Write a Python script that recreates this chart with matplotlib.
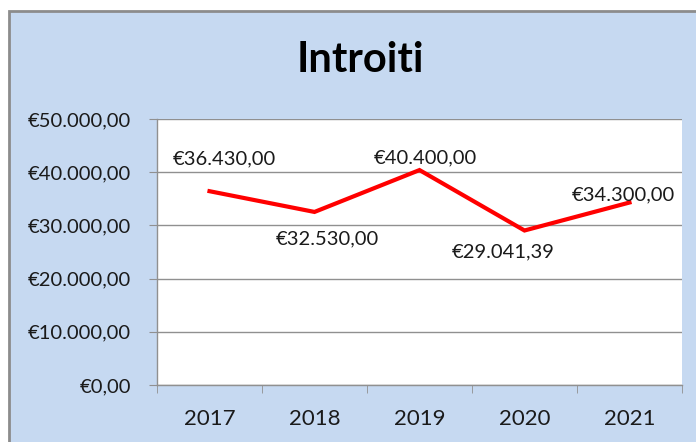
import matplotlib.pyplot as plt
import matplotlib.ticker as ticker
from matplotlib.patches import Rectangle

anni = ['2017', '2018', '2019', '2020', '2021']
introiti = [36430.00, 32530.00, 40400.00, 29041.39, 34300.00]

def euro(v, pos=None):
    s = f'{v:,.2f}'.replace(',', 'X').replace('.', ',').replace('X', '.')
    return '€' + s

plt.rcParams['font.family'] = ['Lato', 'DejaVu Sans']

fig = plt.figure(figsize=(6.96, 4.42), dpi=100)
fig.patch.set_facecolor('white')

# sfondo azzurro con bordo grigio
bg = Rectangle((9 / 696, -0.01), 1.0, 1 - 11 / 442 + 0.01, transform=fig.transFigure,
               facecolor='#c6d9f1', edgecolor='#8c8c8c', linewidth=2, zorder=-5)
fig.patches.append(bg)

ax = fig.add_axes([157 / 696, 57 / 442, 525 / 696, 266 / 442])
ax.set_facecolor('white')

x = list(range(len(anni)))
ax.plot(x, introiti, color='#ff0000', linewidth=3, solid_joinstyle='miter', zorder=3)

# etichette dati (spostamenti in punti, rispetto alla linea di base del testo)
offsets = [(10.8, 19.4), (9.0, -23.0), (4.0, 5.0), (-15.5, -19.1), (-4.3, 1.4)]
for xi, v, (dx, dy) in zip(x, introiti, offsets):
    ax.annotate(euro(v), (xi, v), xytext=(dx, dy), textcoords='offset points',
                ha='center', va='baseline', fontsize=14.5, color='#1a1a1a')

ax.set_xlim(-0.5, len(anni) - 0.5)
ax.set_ylim(0, 50000)
ax.yaxis.set_major_locator(ticker.MultipleLocator(10000))
ax.yaxis.set_major_formatter(ticker.FuncFormatter(euro))
ax.grid(axis='y', color='#909090', linewidth=1)
ax.set_axisbelow(True)

ax.set_xticks(x)
ax.set_xticklabels(anni)
ax.set_xticks([i - 0.5 for i in range(len(anni) + 1)], minor=True)
ax.tick_params(axis='x', which='major', length=0, pad=17, labelsize=16, labelcolor='#1a1a1a')
ax.tick_params(axis='x', which='minor', length=5.5, color='#909090', direction='out')
ax.tick_params(axis='y', length=5.5, color='#909090', pad=13, labelsize=14.5, labelcolor='#1a1a1a')

for s in ['top', 'right']:
    ax.spines[s].set_visible(False)
for s in ['left', 'bottom']:
    ax.spines[s].set_color('#909090')
    ax.spines[s].set_linewidth(1)

fig.text(360 / 696, 1 - 60 / 442, 'Introiti', ha='center', va='center',
         fontsize=30, fontweight='bold', color='black')

plt.savefig('out.png', dpi=100)
